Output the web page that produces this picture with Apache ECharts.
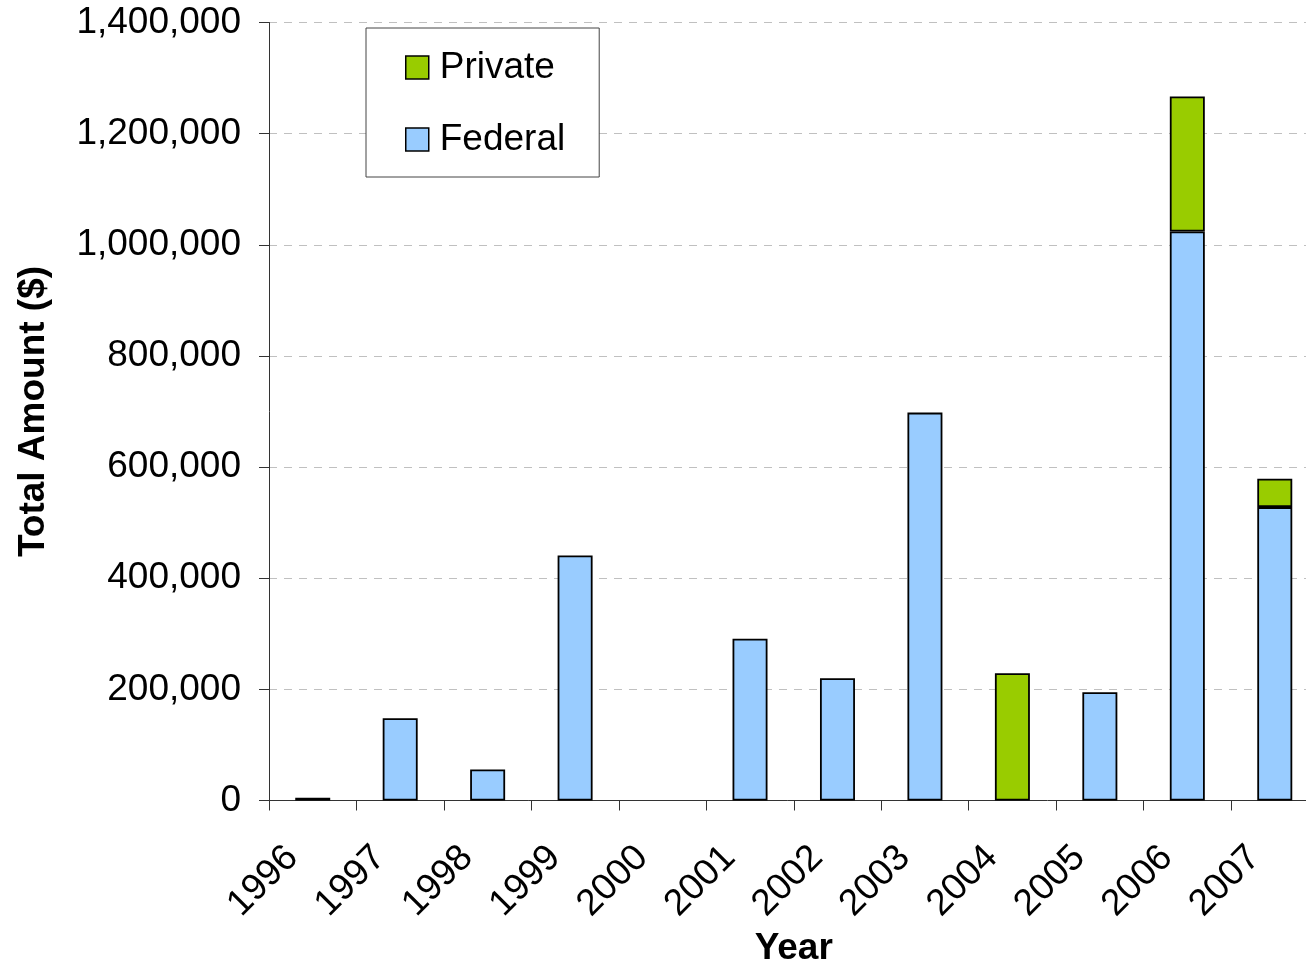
<!DOCTYPE html>
<html>
<head>
<meta charset="utf-8">
<title>Total Amount by Year</title>
<script src="https://cdn.jsdelivr.net/npm/echarts@6/dist/echarts.min.js"></script>
<style>
  html, body { margin: 0; padding: 0; background: #fff; }
  #chart { width: 1306px; height: 964px; }
</style>
</head>
<body>
<div id="chart"></div>
<script>
// Funding per year, split by source (dollars)
const years = ['1996', '1997', '1998', '1999', '2000', '2001', '2002', '2003', '2004', '2005', '2006', '2007'];
const federal = [5000, 148000, 56000, 441000, 0, 291000, 220000, 698000, 0, 195000, 1024000, 528000];
const privateFunds = [0, 0, 0, 0, 0, 0, 0, 0, 229000, 0, 243000, 51000];
const yTicks = { min: 0, max: 1400000, interval: 200000 };

const FONT = '"Liberation Sans", Arial, sans-serif';
const FONT_SIZE = 37;
const FEDERAL_COLOR = '#99CCFF';
const PRIVATE_COLOR = '#99CC00';

// empty years get no bar at all (no zero-height outline)
const toBar = arr => arr.map(v => (v === 0 ? '-' : v));

const chart = echarts.init(document.getElementById('chart'), null, { renderer: 'canvas' });

chart.setOption({
  animation: false,
  backgroundColor: '#fff',
  textStyle: { fontFamily: FONT, color: '#000' },
  grid: {
    left: 269,
    top: 22.5,
    right: -12.5,
    bottom: 163.5,
    containLabel: false,
    outerBoundsMode: 'none'
  },
  legend: {
    orient: 'vertical',
    left: 366,
    top: 28,
    data: ['Private', 'Federal'],
    icon: 'rect',
    itemWidth: 23,
    itemHeight: 23,
    itemGap: 35,
    padding: [21, 34, 19, 39],
    backgroundColor: '#fff',
    borderColor: '#444',
    borderWidth: 1,
    itemStyle: { borderColor: '#000', borderWidth: 1.5 },
    textStyle: {
      fontFamily: FONT,
      fontSize: FONT_SIZE,
      color: '#000',
      lineHeight: 37,
      padding: [0, 0, 0, 6]
    }
  },
  xAxis: {
    type: 'category',
    data: years,
    name: 'Year',
    nameLocation: 'middle',
    nameGap: 119,
    nameTextStyle: { fontFamily: FONT, fontSize: FONT_SIZE, fontWeight: 'bold', color: '#000' },
    axisLine: { show: true, lineStyle: { color: '#333', width: 1 } },
    axisTick: { show: true, length: 10, lineStyle: { color: '#333' } },
    axisLabel: {
      interval: 0,
      rotate: 45,
      margin: 31,
      padding: [0, 29, 0, 0],
      fontFamily: FONT,
      fontSize: FONT_SIZE,
      color: '#000'
    },
    splitLine: { show: false }
  },
  yAxis: {
    type: 'value',
    min: yTicks.min,
    max: yTicks.max,
    interval: yTicks.interval,
    name: 'Total Amount ($)',
    nameLocation: 'middle',
    nameGap: 216.5,
    nameTextStyle: { fontFamily: FONT, fontSize: FONT_SIZE, fontWeight: 'bold', color: '#000' },
    axisLine: { show: true, lineStyle: { color: '#333', width: 1 } },
    axisTick: { show: true, length: 10, inside: false, lineStyle: { color: '#333' } },
    axisLabel: {
      margin: 28,
      padding: [4, 0, 0, 0],
      fontFamily: FONT,
      fontSize: FONT_SIZE,
      color: '#000',
      formatter: v => v.toLocaleString('en-US')
    },
    splitLine: {
      show: true,
      lineStyle: { color: '#c0c0c0', width: 1, type: [8, 7] }
    }
  },
  series: [
    {
      name: 'Federal',
      type: 'bar',
      stack: 'total',
      barWidth: '40%',
      data: toBar(federal),
      itemStyle: { color: FEDERAL_COLOR, borderColor: '#000', borderWidth: 1.8 }
    },
    {
      name: 'Private',
      type: 'bar',
      stack: 'total',
      barWidth: '40%',
      data: toBar(privateFunds),
      itemStyle: { color: PRIVATE_COLOR, borderColor: '#000', borderWidth: 1.8 }
    }
  ]
});
</script>
</body>
</html>
